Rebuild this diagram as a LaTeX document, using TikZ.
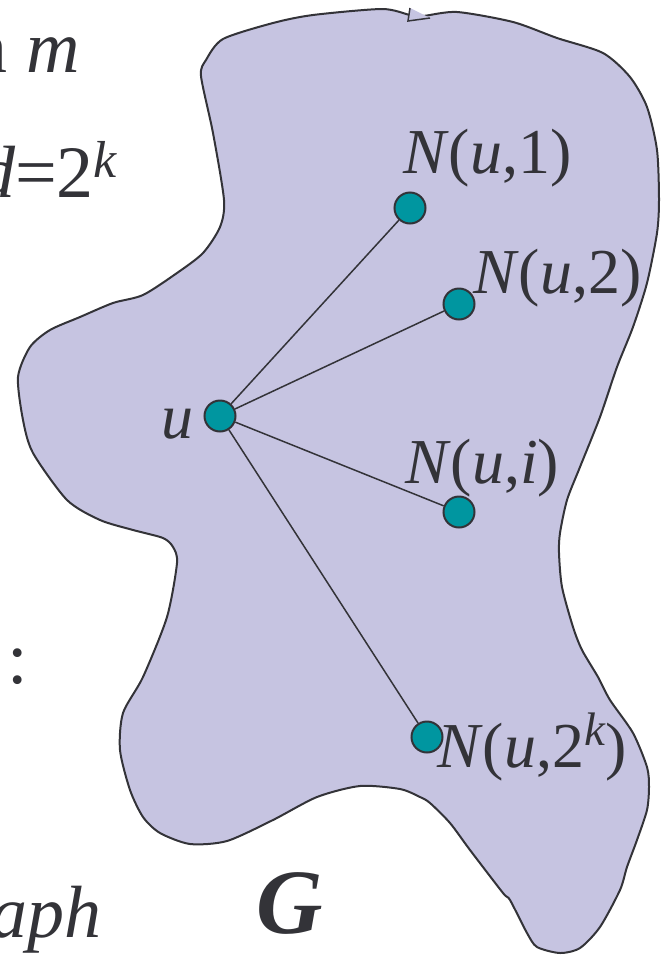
\documentclass[tikz,border=0pt]{standalone}
\usepackage{fontspec}
\setmainfont{Liberation Serif}
\definecolor{blobfill}{RGB}{198,196,225}
\definecolor{teal2}{RGB}{0,150,160}
\definecolor{ink}{RGB}{51,51,56}
\newcommand{\supk}[2]{\raisebox{#2pt}{\fontsize{#1}{#1}\selectfont\textit{k}}}
\begin{document}
\begin{tikzpicture}[x=1pt,y=-1pt,
  vert/.style={circle,fill=teal2,draw=ink,line width=2pt,minimum size=31pt,inner sep=0pt},
  lab/.style={text=ink,font=\fontsize{64}{70}\selectfont,inner sep=0pt},
  side/.style={text=ink,font=\fontsize{74}{84}\selectfont,inner sep=0pt},
  edge/.style={draw=ink,line width=1.5pt}]
\useasboundingbox (0,0) rectangle (667,956);
% blob
\draw[fill=blobfill,draw=ink,line width=2pt] plot[smooth cycle,tension=0.45] coordinates {
(201,76)(206,60)(223,39)(273,23)(313,15)(382,9)(410,15)(423,16)(457,12)(513,22)(557,38)(603,53)(630,77)(647,107)(657,150)(659,200)(657,233)(647,283)(633,327)(617,367)(600,417)(580,467)(567,500)(560,533)(559,553)(562,587)(573,627)(582,650)(598,677)(610,700)(633,733)(647,767)(649,787)(647,810)(637,840)(627,867)(620,890)(600,927)(580,948)(560,953)(537,947)(527,933)(510,900)(503,893)(470,850)(450,823)(430,803)(420,797)(400,789)(360,786)(317,797)(273,820)(227,841)(190,844)(160,833)(143,817)(130,790)(120,750)(123,713)(143,677)(167,617)(177,563)(173,547)(163,538)(133,530)(100,520)(67,500)(33,453)(23,420)(18,377)(30,347)(50,330)(80,317)(113,303)(143,295)(177,273)(203,253)(220,227)(224,200)(213,133)};
\draw[fill=blobfill,draw=ink,line width=1.5pt] (410,8) -- (408,21) -- (430,18);
% vertices
\node[vert] (u) at (220,416) {};
\node[vert] (n1) at (410,208) {};
\node[vert] (n2) at (459,304) {};
\node[vert] (ni) at (459,512) {};
\node[vert] (nk) at (427,737) {};
\draw[edge] (u) -- (n1);
\draw[edge] (u) -- (n2);
\draw[edge] (u) -- (ni);
\draw[edge] (u) -- (nk);
% labels
\node[lab,anchor=base west] (l1) at (403,173) {\textit{N}(\textit{u},1)};
\node[lab,anchor=base west] (l2) at (473,293) {\textit{N}(\textit{u},2)};
\node[lab,anchor=base west] (li) at (405,483) {\textit{N}(\textit{u},\textit{i})};
\node[lab,anchor=base west] (lk) at (437,767) {\textit{N}(\textit{u},2\supk{47}{22})};
\node[lab,anchor=base west] (lu) at (161,438) {\textit{u}};
\node[text=ink,font=\fontsize{92}{100}\selectfont\bfseries\itshape,inner sep=0pt,anchor=base west] (G) at (256,933) {G};
% cut-off side text
\node[side,anchor=base east] (s1) at (80,72) {n \textit{m}};
\node[side,anchor=base east] (s2) at (118,197) {\textit{d}=2\supk{52}{20}};
\node[side,anchor=base west] (s3) at (7,683) {:};
\node[side,anchor=base east] (s4) at (102,937) {\textit{graph}};
\end{tikzpicture}
\end{document}
